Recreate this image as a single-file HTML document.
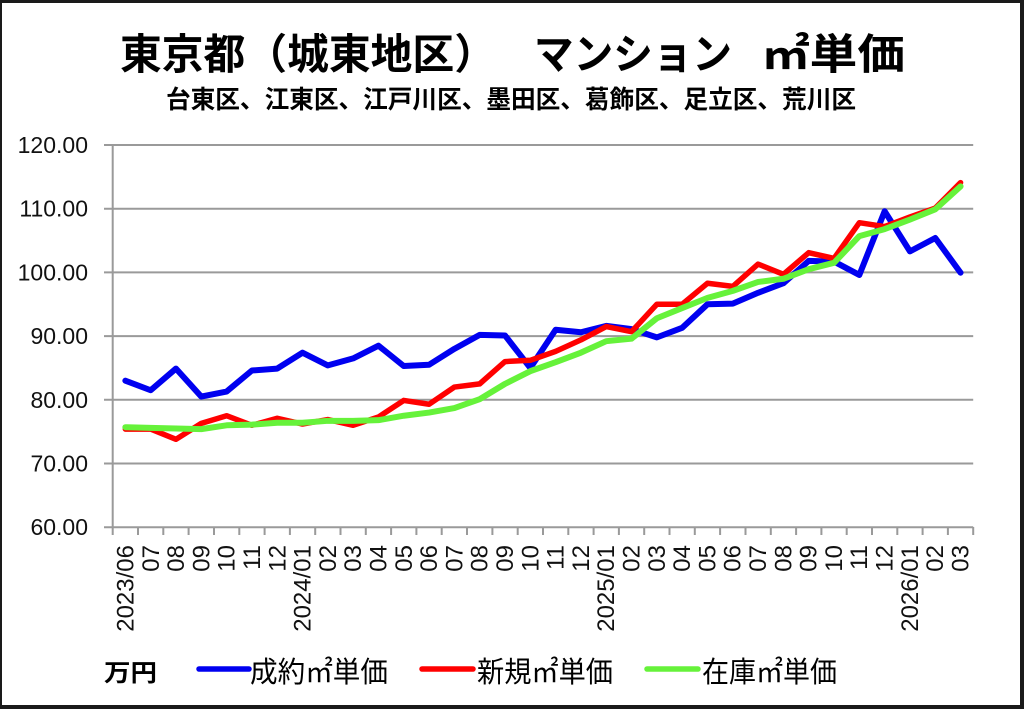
<!DOCTYPE html>
<html>
<head>
<meta charset="utf-8">
<style>
html,body{margin:0;padding:0;background:#fff;}
body{width:1024px;height:709px;overflow:hidden;}
svg{display:block;}
.jp{font-family:"Liberation Sans","Noto Sans CJK JP",sans-serif;}
.num{font-family:"Liberation Sans",sans-serif;font-size:23px;fill:#111;}
.xl{font-family:"Liberation Sans",sans-serif;font-size:24px;fill:#111;}
</style>
</head>
<body>
<svg width="1024" height="709" viewBox="0 0 1024 709" xmlns="http://www.w3.org/2000/svg">
  <rect x="0" y="0" width="1024" height="709" fill="#fff"/>
  <!-- frame -->
  <rect x="0" y="0" width="1024" height="3" fill="#1a1a1a"/>
  <rect x="0" y="0" width="2" height="709" fill="#1a1a1a"/>
  <rect x="1020" y="0" width="4" height="709" fill="#1a1a1a"/>
  <rect x="0" y="705" width="1024" height="4" fill="#1a1a1a"/>

  <!-- title -->
  <text class="jp" x="120" y="69" font-size="42" font-weight="700" fill="#000" textLength="376" lengthAdjust="spacingAndGlyphs">東京都（城東地区）</text>
  <text class="jp" x="534" y="69" font-size="42" font-weight="700" fill="#000" textLength="198" lengthAdjust="spacingAndGlyphs">マンション</text>
  <text class="jp" x="762" y="69" font-size="42" font-weight="700" fill="#000" textLength="143" lengthAdjust="spacingAndGlyphs">㎡単価</text>
  <text class="jp" x="166" y="108" font-size="25" font-weight="700" fill="#000" textLength="690" lengthAdjust="spacingAndGlyphs">台東区、江東区、江戸川区、墨田区、葛飾区、足立区、荒川区</text>

  <!-- grid -->
  <g stroke="#9a9a9a" stroke-width="2" fill="none">
    <path d="M104 145H973.2 M104 208.7H973.2 M104 272.4H973.2 M104 336.1H973.2 M104 399.8H973.2 M104 463.5H973.2 M104 527.2H973.2"/>
    <path d="M112.7 145V535"/>
    <path d="M138 527V535 M163.3 527V535 M188.6 527V535 M214 527V535 M239.3 527V535 M264.6 527V535 M289.9 527V535 M315.2 527V535 M340.5 527V535 M365.8 527V535 M391.1 527V535 M416.4 527V535 M441.7 527V535 M467 527V535 M492.4 527V535 M517.7 527V535 M543 527V535 M568.3 527V535 M593.6 527V535 M618.9 527V535 M644.2 527V535 M669.5 527V535 M694.8 527V535 M720.1 527V535 M745.5 527V535 M770.8 527V535 M796.1 527V535 M821.4 527V535 M846.7 527V535 M872 527V535 M897.3 527V535 M922.6 527V535 M947.9 527V535 M973.2 527V535"/>
  </g>

  <!-- y labels -->
  <g class="num" text-anchor="end" dominant-baseline="central">
    <text x="88" y="145">120.00</text>
    <text x="88" y="208.7">110.00</text>
    <text x="88" y="272.4">100.00</text>
    <text x="88" y="336.1">90.00</text>
    <text x="88" y="399.8">80.00</text>
    <text x="88" y="463.5">70.00</text>
    <text x="88" y="527.2">60.00</text>
  </g>

  <!-- x labels -->
  <g class="xl" text-anchor="end" dominant-baseline="central">
    <text transform="translate(126,545) rotate(-90)">2023/06</text>
    <text transform="translate(151.3,545) rotate(-90)">07</text>
    <text transform="translate(176.6,545) rotate(-90)">08</text>
    <text transform="translate(201.9,545) rotate(-90)">09</text>
    <text transform="translate(227.2,545) rotate(-90)">10</text>
    <text transform="translate(252.5,545) rotate(-90)">11</text>
    <text transform="translate(277.8,545) rotate(-90)">12</text>
    <text transform="translate(303.1,545) rotate(-90)">2024/01</text>
    <text transform="translate(328.4,545) rotate(-90)">02</text>
    <text transform="translate(353.7,545) rotate(-90)">03</text>
    <text transform="translate(379,545) rotate(-90)">04</text>
    <text transform="translate(404.3,545) rotate(-90)">05</text>
    <text transform="translate(429.6,545) rotate(-90)">06</text>
    <text transform="translate(454.9,545) rotate(-90)">07</text>
    <text transform="translate(480.2,545) rotate(-90)">08</text>
    <text transform="translate(505.5,545) rotate(-90)">09</text>
    <text transform="translate(530.8,545) rotate(-90)">10</text>
    <text transform="translate(556.1,545) rotate(-90)">11</text>
    <text transform="translate(581.4,545) rotate(-90)">12</text>
    <text transform="translate(606.7,545) rotate(-90)">2025/01</text>
    <text transform="translate(632,545) rotate(-90)">02</text>
    <text transform="translate(657.3,545) rotate(-90)">03</text>
    <text transform="translate(682.6,545) rotate(-90)">04</text>
    <text transform="translate(707.9,545) rotate(-90)">05</text>
    <text transform="translate(733.2,545) rotate(-90)">06</text>
    <text transform="translate(758.5,545) rotate(-90)">07</text>
    <text transform="translate(783.8,545) rotate(-90)">08</text>
    <text transform="translate(809.1,545) rotate(-90)">09</text>
    <text transform="translate(834.4,545) rotate(-90)">10</text>
    <text transform="translate(859.7,545) rotate(-90)">11</text>
    <text transform="translate(885,545) rotate(-90)">12</text>
    <text transform="translate(910.3,545) rotate(-90)">2026/01</text>
    <text transform="translate(935.6,545) rotate(-90)">02</text>
    <text transform="translate(960.9,545) rotate(-90)">03</text>
  </g>

  <!-- series -->
  <g transform="translate(112.7,145) scale(25.31,-6.37) translate(0.5,-120)" fill="none" stroke-linejoin="round" stroke-linecap="round">
    <polyline vector-effect="non-scaling-stroke" stroke="#0000f0" stroke-width="6"
      points="0,83.0 1,81.5 2,84.9 3,80.5 4,81.3 5,84.6 6,84.9 7,87.4 8,85.4 9,86.5 10,88.5 11,85.3 12,85.5 13,88.0 14,90.2 15,90.1 16,85.0 17,91.0 18,90.6 19,91.6 20,91.1 21,89.8 22,91.3 23,95.0 24,95.1 25,96.8 26,98.3 27,101.8 28,101.7 29,99.6 30,109.6 31,103.3 32,105.4 33,99.95"/>
    <polyline vector-effect="non-scaling-stroke" stroke="#ff0000" stroke-width="5.5"
      points="0,75.4 1,75.4 2,73.8 3,76.3 4,77.5 5,76.0 6,77.1 7,76.2 8,76.9 9,76.0 10,77.3 11,79.9 12,79.3 13,82.0 14,82.5 15,86.0 16,86.2 17,87.6 18,89.4 19,91.5 20,90.7 21,95.0 22,95.0 23,98.3 24,97.8 25,101.3 26,99.7 27,103.1 28,102.2 29,107.8 30,107.2 31,108.7 32,110.1 33,114.1"/>
    <polyline vector-effect="non-scaling-stroke" stroke="#66f23a" stroke-width="6"
      points="0,75.7 1,75.6 2,75.5 3,75.4 4,76.0 5,76.1 6,76.4 7,76.4 8,76.7 9,76.7 10,76.8 11,77.5 12,78.0 13,78.7 14,80.1 15,82.5 16,84.5 17,85.9 18,87.4 19,89.2 20,89.6 21,92.8 22,94.4 23,96.0 24,97.1 25,98.5 26,99.0 27,100.5 28,101.5 29,105.7 30,106.8 31,108.3 32,109.9 33,113.5"/>
  </g>

  <!-- legend -->
  <text class="jp" x="104" y="681" font-size="24" font-weight="700" fill="#000" textLength="53" lengthAdjust="spacingAndGlyphs">万円</text>
  <line x1="199" y1="669" x2="249" y2="669" stroke="#0000f0" stroke-width="5.5" stroke-linecap="round"/>
  <text class="jp" x="250" y="682" font-size="29" fill="#000" textLength="138" lengthAdjust="spacingAndGlyphs">成約㎡単価</text>
  <line x1="422" y1="669" x2="473" y2="669" stroke="#ff0000" stroke-width="5.5" stroke-linecap="round"/>
  <text class="jp" x="477" y="682" font-size="29" fill="#000" textLength="136" lengthAdjust="spacingAndGlyphs">新規㎡単価</text>
  <line x1="647" y1="669" x2="698" y2="669" stroke="#66f23a" stroke-width="5.5" stroke-linecap="round"/>
  <text class="jp" x="702" y="682" font-size="29" fill="#000" textLength="135" lengthAdjust="spacingAndGlyphs">在庫㎡単価</text>
</svg>
</body>
</html>
